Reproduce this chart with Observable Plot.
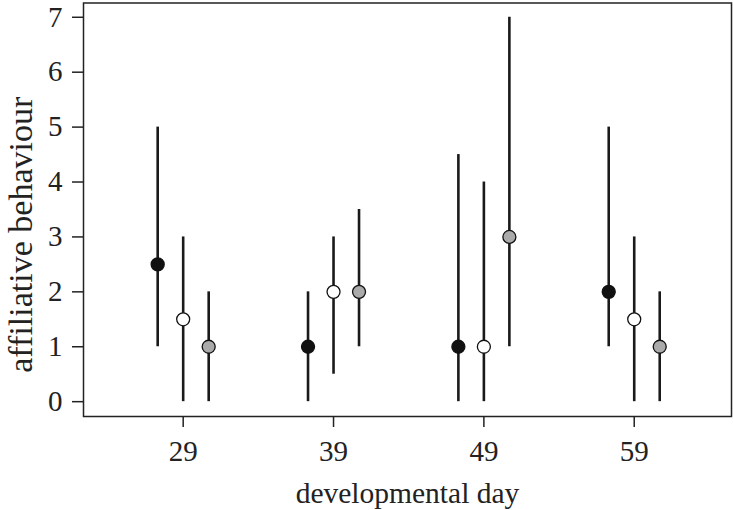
<!DOCTYPE html>
<html>
<head>
<meta charset="utf-8">
<script src="https://cdn.jsdelivr.net/npm/d3@7"></script>
<script src="https://cdn.jsdelivr.net/npm/@observablehq/plot@0.6"></script>
<style>
  html, body { margin: 0; padding: 0; background: #fff; }
</style>
</head>
<body>
<div id="chart"></div>
<script>
const days = [29, 39, 49, 59];
const groups = ["black", "white", "grey"];
const medianBlack = [2.5, 1, 1, 2];
const lowBlack    = [1, 0, 0, 1];
const highBlack   = [5, 2, 4.5, 5];
const medianWhite = [1.5, 2, 1, 1.5];
const lowWhite    = [0, 0.5, 0, 0];
const highWhite   = [3, 3, 4, 3];
const medianGrey  = [1, 2, 3, 1];
const lowGrey     = [0, 1, 1, 0];
const highGrey    = [2, 3.5, 7, 2];
const yTicks = [0, 1, 2, 3, 4, 5, 6, 7];
const xTicks = [29, 39, 49, 59];

const series = {
  black: {median: medianBlack, low: lowBlack, high: highBlack},
  white: {median: medianWhite, low: lowWhite, high: highWhite},
  grey:  {median: medianGrey,  low: lowGrey,  high: highGrey}
};
const rows = [];
for (const g of groups) {
  days.forEach((d, i) => rows.push({group: g, day: d, median: series[g].median[i], low: series[g].low[i], high: series[g].high[i]}));
}
const fills = {black: "#111111", white: "#ffffff", grey: "#aaaaaa"};
const shift = {black: -25.5, white: 0, grey: 25.5};

const marks = [Plot.frame({stroke: "#222", strokeWidth: 1.5})];
for (const g of groups) {
  const data = rows.filter(r => r.group === g);
  marks.push(Plot.ruleX(data, {x: "day", y1: "low", y2: "high", dx: shift[g], stroke: "#1a1a1a", strokeWidth: 2.6}));
}
for (const g of groups) {
  const data = rows.filter(r => r.group === g);
  marks.push(Plot.dot(data, {x: "day", y: "median", dx: shift[g], r: 6.5, fill: fills[g], stroke: "#111", strokeWidth: 1.3}));
}
marks.push(
  Plot.axisY({ticks: yTicks, tickSize: 11, tickPadding: 10, label: null, stroke: "#222", strokeWidth: 1.5, fontSize: 29}),
  Plot.axisX({ticks: xTicks, tickSize: 11, tickPadding: 13, label: null, stroke: "#222", strokeWidth: 1.5, fontSize: 29}),
  Plot.text(["developmental day"], {frameAnchor: "bottom", dy: 77, lineAnchor: "middle", textAnchor: "middle", fontSize: 29.5, fill: "#222"}),
  Plot.text(["affiliative behaviour"], {frameAnchor: "left", dx: -62, dy: 25, rotate: -90, textAnchor: "middle", lineAnchor: "middle", fontSize: 34, fill: "#222"})
);

const chart = Plot.plot({
  width: 733,
  height: 510,
  marginLeft: 83,
  marginRight: 2,
  marginTop: 2.5,
  marginBottom: 94,
  style: {fontFamily: "'Liberation Serif', serif", fontSize: "29px", color: "#222", background: "#fff"},
  x: {domain: [22.37, 65.47]},
  y: {domain: [-0.27, 7.26]},
  marks
});
document.getElementById("chart").appendChild(chart);
</script>
</body>
</html>
